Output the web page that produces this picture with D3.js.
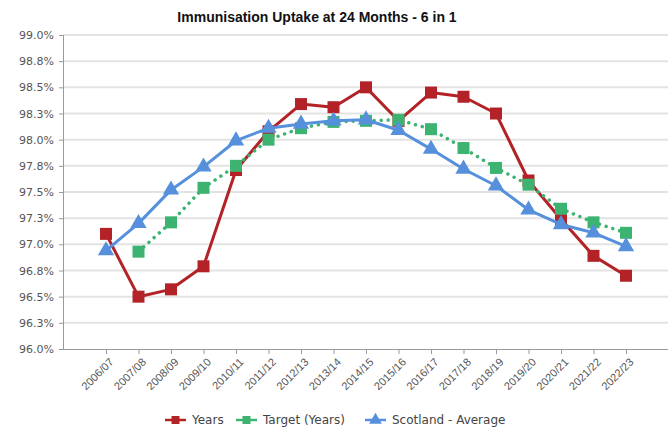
<!DOCTYPE html>
<html>
<head>
<meta charset="utf-8">
<script src="https://cdn.jsdelivr.net/npm/d3@7"></script>
<style>
  body { margin: 0; background: #fff; }
  svg { display: block; font-family: "Liberation Sans", Arial, sans-serif; }
  .grid line { stroke: #e3e3e3; stroke-width: 2; }
  .axis path, .axis line { stroke: #9a9a9a; }
  .axis text { fill: #555; }
</style>
</head>
<body>
<svg id="chart"></svg>
<script>
// Data
const years = ['2006/07','2007/08','2008/09','2009/10','2010/11','2011/12','2012/13','2013/14','2014/15',
  '2015/16','2016/17','2017/18','2018/19','2019/20','2020/21','2021/22','2022/23'];
const uptake = [97.10, 96.50, 96.57, 96.79, 97.71, 98.08, 98.34, 98.31, 98.50,
  98.18, 98.45, 98.41, 98.25, 97.61, 97.24, 96.89, 96.70];
const target = [null, 96.93, 97.21, 97.54, 97.75, 98.00, 98.11, 98.17, 98.18,
  98.19, 98.10, 97.92, 97.73, 97.57, 97.34, 97.21, 97.11];
const scotland = [96.94, 97.20, 97.52, 97.74, 97.99, 98.11, 98.15, 98.18, 98.19,
  98.09, 97.91, 97.72, 97.56, 97.33, 97.19, 97.11, 96.98];
const yTicks = [96.0, 96.25, 96.5, 96.75, 97.0, 97.25, 97.5, 97.75, 98.0, 98.25, 98.5, 98.75, 99.0];

class LineChart {

  constructor(_config) {
    this.config = {
      parentElement: _config.parentElement,
      containerWidth: _config.containerWidth || 671,
      containerHeight: _config.containerHeight || 429,
      margin: _config.margin || {top: 35, right: 3, bottom: 80, left: 63}
    }
    this.series = [
      {name: 'Years', values: uptake, color: '#b22226', symbol: d3.symbolSquare, size: 144, dash: null, width: 3},
      {name: 'Target (Years)', values: target, color: '#3cb371', symbol: d3.symbolSquare, size: 144, dash: '0.01 7', width: 3.5},
      {name: 'Scotland - Average', values: scotland, color: '#5690dc', symbol: d3.symbolTriangle, size: 115, dash: null, width: 3}
    ];
    this.initVis();
  }

  initVis() {
    let vis = this;

    vis.width = vis.config.containerWidth - vis.config.margin.left - vis.config.margin.right;
    vis.height = vis.config.containerHeight - vis.config.margin.top - vis.config.margin.bottom;

    // points sit 43px in from the axis, last one 42px short of the right edge
    vis.xScale = d3.scalePoint()
      .domain(years)
      .range([43, vis.width - 42]);
    vis.yScale = d3.scaleLinear()
      .domain([96, 99])
      .range([vis.height, 0]);

    vis.svg = d3.select(vis.config.parentElement)
      .attr('width', vis.config.containerWidth)
      .attr('height', vis.config.containerHeight);

    vis.svg.append('text')
      .attr('x', 317)
      .attr('y', 22)
      .attr('text-anchor', 'middle')
      .style('font-weight', 'bold')
      .style('font-size', '14px')
      .style('fill', '#111')
      .text('Immunisation Uptake at 24 Months - 6 in 1');

    vis.chart = vis.svg.append('g')
      .attr('transform', `translate(${vis.config.margin.left},${vis.config.margin.top})`);

    // horizontal gridlines
    vis.chart.append('g')
      .attr('class', 'grid')
      .selectAll('line')
      .data(yTicks.slice(1))
      .join('line')
      .attr('x1', 0)
      .attr('x2', vis.width)
      .attr('y1', d => vis.yScale(d))
      .attr('y2', d => vis.yScale(d));

    vis.yAxisG = vis.chart.append('g')
      .attr('class', 'axis y-axis')
      .call(d3.axisLeft(vis.yScale).tickValues(yTicks).tickSize(4).tickPadding(5)
        .tickFormat(d => d3.format('.1f')(Math.round(d * 10 + 1e-9) / 10) + '%'));
    vis.yAxisG.selectAll('text')
      .style('font-family', '"DejaVu Sans", sans-serif')
      .style('font-size', '11px');

    vis.xAxisG = vis.chart.append('g')
      .attr('class', 'axis x-axis')
      .attr('transform', `translate(0,${vis.height})`)
      .call(d3.axisBottom(vis.xScale).tickSize(5).tickSizeOuter(0));
    vis.xAxisG.select('.domain').attr('d', `M0,0.5H${vis.width}`);
    vis.xAxisG.selectAll('text')
      .style('font-size', '11px')
      .attr('text-anchor', 'end')
      .attr('dy', '0.35em')
      .attr('transform', 'translate(5,11) rotate(-45)')
      .attr('x', 0)
      .attr('y', 0);

    vis.renderVis();
  }

  renderVis() {
    let vis = this;

    const line = d3.line()
      .defined(d => d[1] !== null)
      .x(d => vis.xScale(d[0]))
      .y(d => vis.yScale(d[1]));

    vis.series.forEach(s => {
      const pts = years.map((y, i) => [y, s.values[i]]);
      vis.chart.append('path')
        .datum(pts)
        .attr('fill', 'none')
        .attr('stroke', s.color)
        .attr('stroke-width', s.width)
        .attr('stroke-linecap', s.dash ? 'round' : 'butt')
        .attr('stroke-linejoin', 'round')
        .attr('stroke-dasharray', s.dash)
        .attr('d', line);

      vis.chart.append('g')
        .selectAll('path')
        .data(pts.filter(d => d[1] !== null))
        .join('path')
        .attr('transform', d => `translate(${vis.xScale(d[0])},${vis.yScale(d[1])})`)
        .attr('d', d3.symbol().type(s.symbol).size(s.size))
        .attr('fill', s.color);
    });

    // legend
    const legendX = [165, 236, 365];
    const legend = vis.svg.append('g').attr('transform', 'translate(0,420)');
    vis.series.forEach((s, i) => {
      const g = legend.append('g').attr('transform', `translate(${legendX[i]},0)`);
      g.append('line')
        .attr('x1', 0).attr('x2', 21)
        .attr('stroke', s.color).attr('stroke-width', 2.5);
      g.append('path')
        .attr('transform', 'translate(10.5,0)')
        .attr('d', d3.symbol().type(s.symbol).size(s.symbol === d3.symbolTriangle ? 70 : 64)())
        .attr('fill', s.color);
      g.append('text')
        .attr('x', 27)
        .attr('dy', '0.35em')
        .style('font-family', '"DejaVu Sans", sans-serif')
        .style('font-size', '12px')
        .style('fill', '#444')
        .text(s.name);
    });
  }
}

new LineChart({parentElement: '#chart'});
</script>
</body>
</html>
